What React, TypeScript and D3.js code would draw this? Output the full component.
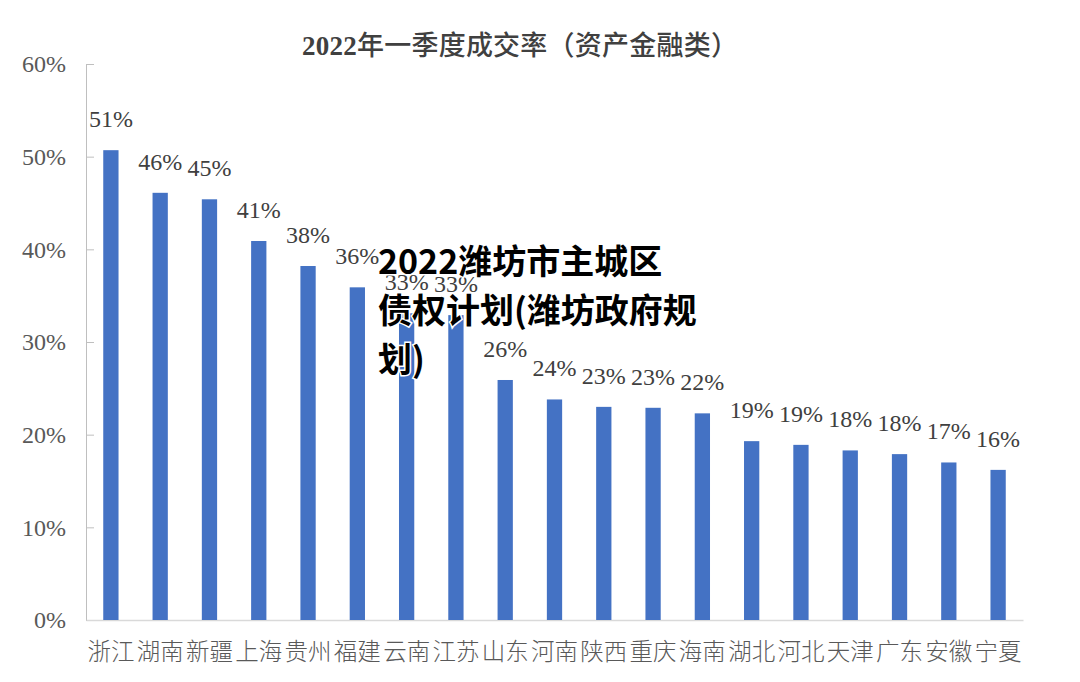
import { useEffect, useRef } from "react";
import * as d3 from "d3";

const provinces = [
  "浙江", "湖南", "新疆", "上海", "贵州", "福建", "云南", "江苏", "山东", "河南",
  "陕西", "重庆", "海南", "湖北", "河北", "天津", "广东", "安徽", "宁夏",
];
const rates = [
  50.7, 46.1, 45.4, 40.9, 38.2, 35.9, 33.1, 32.9, 25.9, 23.8,
  23.0, 22.9, 22.3, 19.3, 18.9, 18.3, 17.9, 17.0, 16.2,
];
const yTicks = [0, 10, 20, 30, 40, 50, 60];
const titleYear = "2022";
const titleRest = "年一季度成交率（资产金融类）";
const overlayLines = ["2022潍坊市主城区", "债权计划(潍坊政府规", "划)"];

const width = 1080;
const height = 682;
const margin = { top: 64, right: 57, bottom: 62, left: 86 };

export default function App() {
  const xAxisRef = useRef<SVGGElement>(null);
  const yAxisRef = useRef<SVGGElement>(null);

  const x = d3
    .scaleBand()
    .domain(provinces)
    .range([margin.left, width - margin.right])
    .paddingInner(0.69)
    .paddingOuter(0.35);
  const y = d3
    .scaleLinear()
    .domain([0, 60])
    .range([height - margin.bottom, margin.top]);

  useEffect(() => {
    const yAxis = d3
      .axisLeft(y)
      .tickValues(yTicks)
      .tickFormat((d) => `${d}%`)
      .tickSizeInner(-8)
      .tickSizeOuter(0)
      .tickPadding(20);
    const gy = d3.select(yAxisRef.current!);
    gy.call(yAxis);
    gy.select(".domain").attr("stroke", "#bfbfbf");
    gy.selectAll(".tick line").attr("stroke", "#bfbfbf");
    gy.selectAll(".tick text")
      .attr("fill", "#595959")
      .attr("font-size", 24)
      .attr("font-family", "'Liberation Serif', serif");

    const xAxis = d3.axisBottom(x).tickSize(0).tickPadding(23);
    const gx = d3.select(xAxisRef.current!);
    gx.call(xAxis);
    gx.select(".domain").attr("stroke", "#d9d9d9").attr("stroke-width", 1.5);
    gx.selectAll(".tick text")
      .attr("fill", "#595959")
      .attr("font-size", 23.5)
      .attr("font-family", "'Noto Sans CJK SC', sans-serif")
      .attr("font-weight", 300);
  }, [x, y]);

  return (
    <svg
      width={width}
      height={height}
      style={{ position: "absolute", left: 0, top: 0, background: "#fff" }}
    >
      <text
        x={520}
        y={55}
        textAnchor="middle"
        fontSize={27}
        fill="#404040"
        fontFamily="'Liberation Serif', 'Noto Sans CJK SC', serif"
        textLength={436}
        lengthAdjust="spacing"
      >
        <tspan fontWeight="bold">{titleYear}</tspan>
        <tspan fontWeight={500}>{titleRest}</tspan>
      </text>

      <g ref={yAxisRef} transform={`translate(${margin.left},0)`} />
      <g ref={xAxisRef} transform={`translate(0,${height - margin.bottom})`} />

      <g>
        {rates.map((v, i) => (
          <rect
            key={provinces[i]}
            x={x(provinces[i])}
            y={y(v)}
            width={x.bandwidth()}
            height={y(0) - y(v)}
            fill="#4472c4"
          />
        ))}
      </g>

      <g fontFamily="'Liberation Serif', serif" fontSize={24} fill="#404040">
        {rates.map((v, i) => (
          <text
            key={provinces[i]}
            x={x(provinces[i])! + x.bandwidth() / 2}
            y={y(v) - 23}
            textAnchor="middle"
          >
            {`${Math.round(v)}%`}
          </text>
        ))}
      </g>

      <g
        fontFamily="'Noto Sans CJK SC', sans-serif"
        fontWeight="bold"
        fontSize={34}
        fill="#000"
        stroke="#fff"
        strokeWidth={3}
        style={{ paintOrder: "stroke" }}
      >
        {overlayLines.map((line, i) => (
          <text key={i} x={378} y={274 + i * 49}>
            {line}
          </text>
        ))}
      </g>
    </svg>
  );
}
